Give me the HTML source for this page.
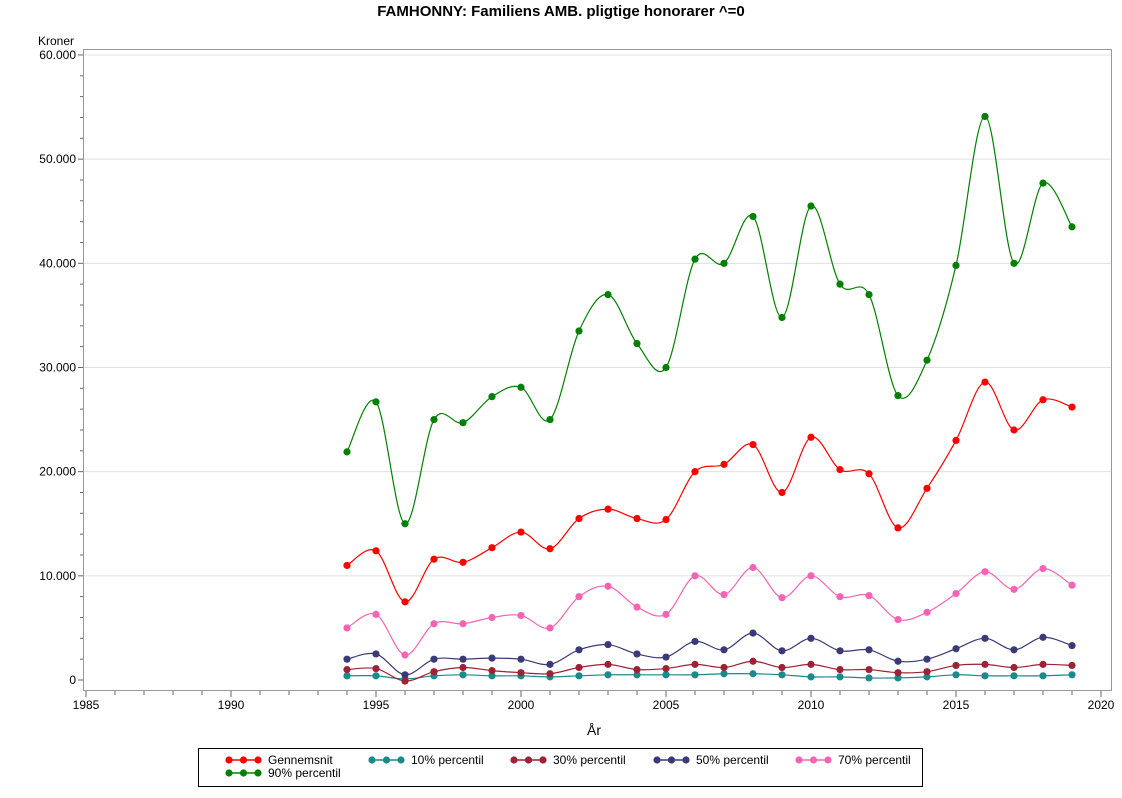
<!DOCTYPE html>
<html><head><meta charset="utf-8"><style>
body{margin:0;background:#fff;font-family:"Liberation Sans",sans-serif}
svg text{font-family:"Liberation Sans",sans-serif}
</style></head><body>
<svg id="s" width="1122" height="793" xmlns="http://www.w3.org/2000/svg">
<rect width="1122" height="793" fill="#fff"/>
<text x="561" y="16" text-anchor="middle" font-size="15" font-weight="bold">FAMHONNY: Familiens AMB. pligtige honorarer ^=0</text>
<text x="38" y="45" font-size="12">Kroner</text>
<g id="grid"></g>
<rect x="83.5" y="49.5" width="1028" height="641" fill="none" stroke="#999"/>
<g id="series"></g>
<text x="594" y="735" text-anchor="middle" font-size="14">År</text>
<rect x="198.5" y="748.5" width="724" height="38" fill="#fff" stroke="#000"/>
<g id="leg" font-size="12"></g>
</svg>
<script>
const NS="http://www.w3.org/2000/svg";
function el(t,a,p,txt){const e=document.createElementNS(NS,t);for(const k in a)e.setAttribute(k,a[k]);if(txt!==undefined)e.textContent=txt;p.appendChild(e);return e;}
const X=y=>86+(y-1985)*29, Y=v=>680-v*104.17/10000;
const g=document.getElementById('grid');
for(let v=0;v<=60000;v+=10000){const y=Y(v);
 if(v>0)el('line',{x1:84,x2:1111,y1:y,y2:y,stroke:'#e0e0e0'},g);
 el('line',{x1:78,x2:83,y1:y,y2:y,stroke:'#666'},g);
 el('text',{x:76,y:y+4,'text-anchor':'end','font-size':12},g,v==0?'0':(v/1000)+'.000');
 if(v<60000)for(let k=1;k<5;k++){const yy=Y(v+k*2000);el('line',{x1:80,x2:83,y1:yy,y2:yy,stroke:'#666'},g);}
}
for(let yr=1985;yr<=2020;yr++){const x=X(yr);const maj=yr%5==0;
 el('line',{x1:x,x2:x,y1:691,y2:maj?697:695,stroke:'#666'},g);
 if(maj)el('text',{x:x,y:709,'text-anchor':'middle','font-size':12},g,String(yr));}
const S=[
['Gennemsnit','#ff0000',[11000,12400,7500,11600,11300,12700,14200,12600,15500,16400,15500,15400,20000,20700,22600,18000,23300,20200,19800,14600,18400,23000,28600,24000,26900,26200]],
['10% percentil','#1a8a8a',[400,400,100,400,500,400,400,300,400,500,500,500,500,600,600,500,300,300,200,200,300,500,400,400,400,500]],
['30% percentil','#9b2335',[1000,1100,-100,800,1200,900,700,600,1200,1500,1000,1100,1500,1200,1800,1200,1500,1000,1000,700,800,1400,1500,1200,1500,1400]],
['50% percentil','#3b3a78',[2000,2500,500,2000,2000,2100,2000,1500,2900,3400,2500,2200,3700,2900,4500,2800,4000,2800,2900,1800,2000,3000,4000,2900,4100,3300]],
['70% percentil','#f564b4',[5000,6300,2400,5400,5400,6000,6200,5000,8000,9000,7000,6300,10000,8200,10800,7900,10000,8000,8100,5800,6500,8300,10400,8700,10700,9100]],
['90% percentil','#008000',[21900,26700,15000,25000,24700,27200,28100,25000,33500,37000,32300,30000,40400,40000,44500,34800,45500,38000,37000,27300,30700,39800,54100,40000,47700,43500]]];
const sg=document.getElementById('series');
S.forEach(([n,c,d])=>{
 const p=d.map((v,i)=>[X(1994+i),Y(v)]);
 let s='M'+p[0][0]+','+p[0][1];
 for(let i=0;i<p.length-1;i++){const p0=p[i-1]||p[i],p1=p[i],p2=p[i+1],p3=p[i+2]||p2;
  s+=` C${p1[0]+(p2[0]-p0[0])/6},${p1[1]+(p2[1]-p0[1])/6} ${p2[0]-(p3[0]-p1[0])/6},${p2[1]-(p3[1]-p1[1])/6} ${p2[0]},${p2[1]}`;}
 el('path',{d:s,fill:'none',stroke:c,'stroke-width':1.2},sg);
 p.forEach(q=>el('circle',{cx:q[0],cy:q[1],r:3.6,fill:c},sg));
});
const lg=document.getElementById('leg');
const pos=[[229,760],[372,760],[514,760],[657,760],[799,760],[229,773]];
S.forEach(([n,c],i)=>{const [x,y]=pos[i];
 el('line',{x1:x,x2:x+29,y1:y,y2:y,stroke:c,'stroke-width':1.5},lg);
 [0,14.5,29].forEach(o=>el('circle',{cx:x+o,cy:y,r:3.6,fill:c},lg));
 el('text',{x:x+39,y:y+4},lg,n);});
</script>
</body></html>
